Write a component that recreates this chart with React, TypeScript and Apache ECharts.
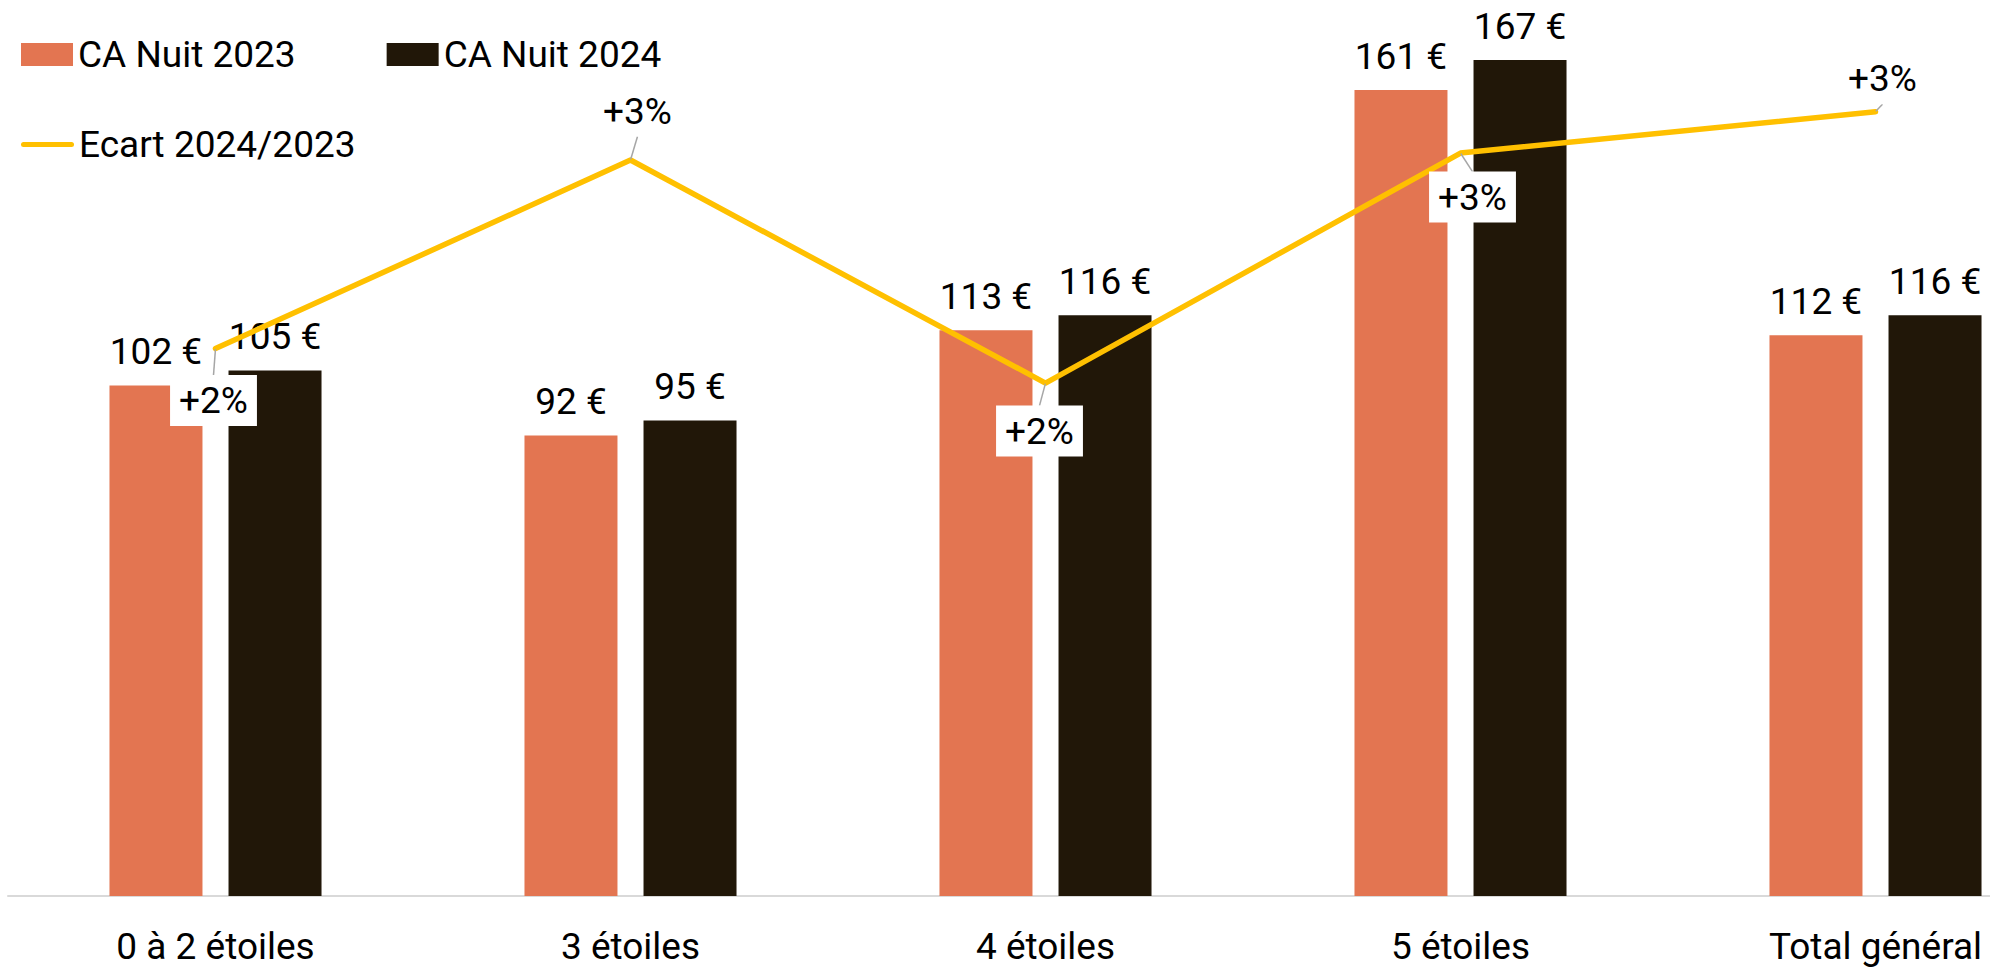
import React, { useEffect, useRef } from "react";
import * as echarts from "echarts";

const categories = ["0 à 2 étoiles", "3 étoiles", "4 étoiles", "5 étoiles", "Total général"];
const ca2023 = [102, 92, 113, 161, 112];
const ca2024 = [105, 95, 116, 167, 116];
const ecart = [2.38, 3.2, 2.23, 3.23, 3.41];
const seriesNames = ["CA Nuit 2023", "CA Nuit 2024", "Ecart 2024/2023"];
// label placement offsets (dx, dy) for the Ecart labels
const ecartLabelShift = [
  [-2, 52],
  [7, -49],
  [-6, 48],
  [12, 44],
  [7, -33],
];

const FONT = "Roboto";
const FS = 37;

export default function App() {
  const ref = useRef<HTMLDivElement>(null);
  useEffect(() => {
    if (!ref.current) return;
    const chart = echarts.init(ref.current, null, { renderer: "svg" });
    chart.setOption({
      animation: false,
      backgroundColor: "#ffffff",
      textStyle: { fontFamily: FONT },
      legend: [
        {
          data: [seriesNames[0], seriesNames[1]],
          left: 16,
          top: 31,
          itemWidth: 52,
          itemHeight: 23,
          itemGap: 91,
          icon: "rect",
          textStyle: { fontSize: FS, color: "#000", fontFamily: FONT },
        },
        {
          data: [
            {
              name: seriesNames[2],
              icon: "path://M2.5,0 L50.5,0 A2.5,2.5 0 0 1 50.5,5 L2.5,5 A2.5,2.5 0 0 1 2.5,0 Z",
            },
          ],
          left: 16,
          top: 121,
          itemWidth: 53,
          itemHeight: 5,
          textStyle: { fontSize: FS, color: "#000", fontFamily: FONT },
        },
      ],
      grid: { left: 8, right: 0, top: 45, bottom: 72, containLabel: false },
      xAxis: {
        type: "category",
        data: categories,
        axisTick: { show: false },
        axisLine: { lineStyle: { color: "#D9D9D9", width: 2 } },
        axisLabel: {
          fontSize: FS,
          color: "#000",
          margin: 32,
          lineHeight: 37,
          fontFamily: FONT,
        },
      },
      yAxis: [
        { type: "value", min: 0, max: 170, show: false, splitLine: { show: false } },
        { type: "value", min: 0, max: 3.7, show: false, splitLine: { show: false } },
      ],
      series: [
        {
          name: seriesNames[0],
          type: "bar",
          data: ca2023,
          barWidth: 93,
          barGap: "28%",
          itemStyle: { color: "#E37551" },
          label: {
            show: true,
            position: "top",
            distance: 15,
            fontSize: FS,
            color: "#000",
            fontFamily: FONT,
            formatter: (p: any) => p.value + " €",
          },
        },
        {
          name: seriesNames[1],
          type: "bar",
          data: ca2024,
          barWidth: 93,
          barGap: "28%",
          itemStyle: { color: "#211708" },
          label: {
            show: true,
            position: "top",
            distance: 15,
            fontSize: FS,
            color: "#000",
            fontFamily: FONT,
            formatter: (p: any) => p.value + " €",
          },
        },
        {
          name: seriesNames[2],
          type: "line",
          yAxisIndex: 1,
          data: ecart,
          symbol: "circle",
          symbolSize: 1,
          showSymbol: true,
          z: 5,
          lineStyle: { color: "#FFC000", width: 5.5, cap: "round", join: "round" },
          itemStyle: { color: "#FFC000" },
          label: {
            show: true,
            position: "inside",
            fontSize: FS,
            color: "#000",
            fontFamily: FONT,
            backgroundColor: "#ffffff",
            padding: [7, 9],
            formatter: (p: any) => "+" + Math.round(p.value) + "%",
          },
          labelLine: { show: true, lineStyle: { color: "#A6A6A6", width: 1.5 } },
          labelLayout: (params: any) => ({
            dx: ecartLabelShift[params.dataIndex][0],
            dy: ecartLabelShift[params.dataIndex][1],
          }),
        },
      ],
    });
    return () => chart.dispose();
  }, []);
  return (
    <div
      style={{
        position: "fixed",
        left: 0,
        top: 0,
        width: 1990,
        height: 968,
        overflow: "hidden",
        background: "#fff",
      }}
    >
      <div ref={ref} style={{ width: 2083, height: 968 }} />
    </div>
  );
}
